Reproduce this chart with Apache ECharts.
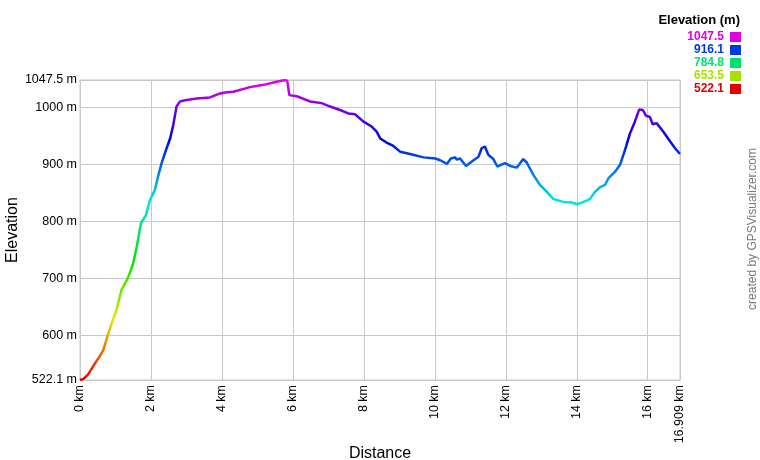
<!DOCTYPE html>
<html><head><meta charset="utf-8">
<script src="https://cdn.jsdelivr.net/npm/echarts@6/dist/echarts.min.js"></script>
<style>html,body{margin:0;padding:0;background:#fff}#c{width:760px;height:460px}</style>
</head><body><div id="c"></div>
<script>
const distanceKm = [0,0.1,0.23,0.42,0.55,0.66,0.77,0.89,1.03,1.17,1.32,1.42,1.50,1.60,1.72,1.86,1.97,2.11,2.21,2.30,2.44,2.54,2.63,2.72,2.82,2.96,3.29,3.66,3.95,4.13,4.32,4.79,5.17,5.54,5.78,5.84,5.90,6.11,6.48,6.53,6.81,7.05,7.33,7.56,7.75,7.99,8.22,8.36,8.46,8.64,8.83,9.02,9.30,9.68,10.01,10.15,10.34,10.45,10.57,10.62,10.71,10.88,11.09,11.23,11.32,11.41,11.51,11.65,11.76,11.98,12.12,12.31,12.35,12.49,12.59,12.78,12.96,13.15,13.34,13.62,13.86,14.02,14.19,14.37,14.52,14.66,14.80,14.89,15.08,15.22,15.36,15.50,15.64,15.76,15.86,15.95,16.06,16.14,16.25,16.44,16.63,16.77,16.909];
const elevationM = [522.1,524,532,551,563,575,598,621,645,680,697,712,727,756,797,811,837,855,881,902,928,945,969,1001,1010,1012,1015,1017,1024,1026,1027,1035,1039,1044.5,1047.5,1046,1021,1019,1010,1012,1007,1001,995,989,987.5,974.5,966,957,945,938,932,922,918,912,910,907,900.5,910,912,908,910,897,907,913,928,931,916,909,896,902,897,894,895,909,903,881,864,852,839,834,833,830,834,839,852,860,864,875,887,899,925,954,975,996,995,985,983,970,972,957,940,928,918];
const yTicks = [522.1,600,700,800,900,1000,1047.5];
const xTicks = [0,2,4,6,8,10,12,14,16,16.909];
const legendValues = ['1047.5','916.1','784.8','653.5','522.1'];
const legendColors = ['#e000e0','#0038e0','#00e070','#a8e000','#e00000'];
const rampColors = ['#e60000','#e67300','#e6e600','#73e600','#00e600','#00e673','#00e6e6','#0073e6','#0000e6','#7300e6','#e600e6'];

const FONT = 'Liberation Sans, Arial, sans-serif';
const chart = echarts.init(document.getElementById('c'));
const gridColor = '#c8c8c8';
const legendGraphics = [{
  type:'text', right: 20, top: 14,
  style:{text:'Elevation (m)', font:'bold 13px '+FONT, fill:'#000'}
}];
legendValues.forEach((v,i)=>{
  const cy = 37 + i*13;
  legendGraphics.push({type:'text', x:724, y:cy, style:{text:v, font:'bold 12px '+FONT, fill:legendColors[i], align:'right', verticalAlign:'middle'}});
  legendGraphics.push({type:'rect', shape:{x:730, y:cy-5, width:11, height:10}, style:{fill:legendColors[i]}});
});
legendGraphics.push({type:'text', x:753, y:229, rotation:Math.PI/2,
  style:{text:'created by GPSVisualizer.com', font:'12px '+FONT, fill:'#777', align:'center', verticalAlign:'middle'}});

chart.setOption({
  animation:false,
  backgroundColor:'#fff',
  grid:{left:80, right:80, top:80, bottom:80, containLabel:false, outerBoundsMode:'none', show:true, borderColor:gridColor, borderWidth:1},
  xAxis:{type:'value', min:0, max:16.909,
    name:'Distance', nameLocation:'middle', nameGap:66, nameMoveOverlap:false,
    nameTextStyle:{fontFamily:FONT, fontSize:16, color:'#000'},
    axisLine:{show:true, lineStyle:{color:gridColor}}, axisTick:{show:false, customValues:xTicks},
    splitLine:{show:true, lineStyle:{color:gridColor}},
    axisLabel:{customValues:xTicks, rotate:90, fontFamily:FONT, fontSize:12.5, color:'#000', margin:5,
      formatter:v=>v+' km'}
  },
  yAxis:{type:'value', min:522.1, max:1047.5,
    name:'Elevation', nameLocation:'middle', nameGap:59, nameRotate:90, nameMoveOverlap:false,
    nameTextStyle:{fontFamily:FONT, fontSize:16, color:'#000'},
    axisLine:{show:true, lineStyle:{color:gridColor}}, axisTick:{show:false, customValues:yTicks},
    splitLine:{show:true, lineStyle:{color:gridColor}},
    axisLabel:{customValues:yTicks, fontFamily:FONT, fontSize:12.5, color:'#000', margin:3,
      formatter:v=>v+' m'}
  },
  visualMap:{show:false, type:'continuous', dimension:1, min:522.1, max:1047.5, inRange:{color:rampColors}},
  series:[{type:'line', showSymbol:false, symbol:'none', lineStyle:{width:2.5},
    data: distanceKm.map((d,i)=>[d, elevationM[i]])}],
  graphic: legendGraphics
});
</script></body></html>
